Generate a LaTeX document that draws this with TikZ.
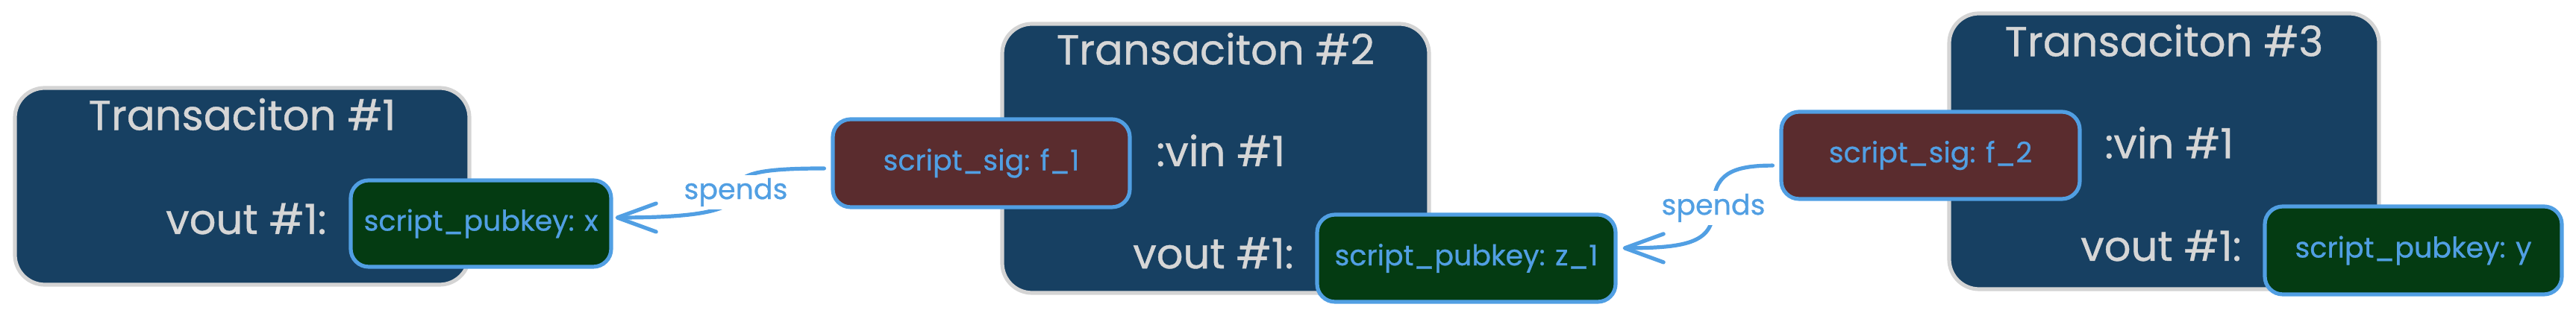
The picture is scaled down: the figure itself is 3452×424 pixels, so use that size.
\documentclass[tikz,border=0pt]{standalone}
\usepackage{fontspec}
\setmainfont{Poppins}[FakeBold=0.7]
\usetikzlibrary{arrows.meta}
\definecolor{txfill}{HTML}{174062}
\definecolor{txline}{HTML}{D4D4D4}
\definecolor{txtext}{HTML}{D6D6D6}
\definecolor{pubfill}{HTML}{043B12}
\definecolor{sigfill}{HTML}{5A2C2E}
\definecolor{skblue}{HTML}{519FE3}
\tikzset{
  txbox/.style={draw=txline, fill=txfill, line width=1.3pt, rounded corners=10pt, inner sep=0pt},
  txtitle/.style={text=txtext, font=\fontsize{14}{16}\selectfont, inner sep=0pt, anchor=base},
  txlbl/.style={text=txtext, font=\fontsize{14}{16}\selectfont, inner sep=0pt},
  pubbox/.style={draw=skblue, fill=pubfill, line width=1.3pt, rounded corners=6pt, inner sep=0pt, text=skblue, font=\fontsize{9.5}{11}\selectfont},
  sigbox/.style={draw=skblue, fill=sigfill, line width=1.3pt, rounded corners=6pt, inner sep=0pt, text=skblue, font=\fontsize{9.5}{11}\selectfont},
  spendline/.style={draw=skblue, line width=1.3pt, line cap=round, -{Straight Barb[length=13pt,width=9.5pt,round]}},
  spendlbl/.style={fill=white, text=skblue, font=\fontsize{9.5}{11}\selectfont, inner sep=1pt}
}
\begin{document}
\begin{tikzpicture}[x=0.25pt,y=-0.25pt]
\useasboundingbox (0,0) rectangle (3452,424);
% transaction boxes
\node[txbox, minimum width=152.25pt, minimum height=66pt] (t1) at (324.5,250) {};
\node[txbox, minimum width=143pt, minimum height=90.25pt] (t2) at (1629,212.5) {};
\node[txbox, minimum width=144pt, minimum height=92.5pt] (t3) at (2900,203) {};
\node[txtitle] (t1title) at ([yshift=-14.75pt]t1.north) {Transaciton \#1};
\node[txtitle] (t2title) at ([yshift=-14.25pt]t2.north) {Transaciton \#2};
\node[txtitle] (t3title) at ([yshift=-15pt]t3.north) {Transaciton \#3};
% inputs / outputs
\node[pubbox, minimum width=87.25pt, minimum height=29pt] (g1) at (644.5,300) {script\_pubkey: x};
\node[sigbox, minimum width=99.5pt, minimum height=29.5pt] (r1) at (1315,219) {script\_sig: f\_1};
\node[pubbox, minimum width=100pt, minimum height=29.25pt] (g2) at (1965,346.5) {script\_pubkey: z\_1};
\node[sigbox, minimum width=100pt, minimum height=29.25pt] (r2) at (2587,208.5) {script\_sig: f\_2};
\node[pubbox, minimum width=99.5pt, minimum height=29.5pt] (g3) at (3234,336) {script\_pubkey: y};
% labels
\node[txlbl, anchor=base east] (v1) at ([xshift=-7.25pt,yshift=-3.5pt]g1.west) {vout \#1:};
\node[txlbl, anchor=base east] (v2) at ([xshift=-7pt,yshift=-3.4pt]g2.west) {vout \#1:};
\node[txlbl, anchor=base east] (v3) at ([xshift=-7pt,yshift=-3.5pt]g3.west) {vout \#1:};
\node[txlbl, anchor=base west] (i2) at ([xshift=8pt,yshift=-1pt]r1.east) {:vin \#1};
\node[txlbl, anchor=base west] (i3) at ([xshift=7.5pt,yshift=-1pt]r2.east) {:vin \#1};
% spends arrows
\coordinate (m1) at (986,258);
\coordinate (m2) at (2296,279);
\draw[spendline] ([xshift=-2.25pt,yshift=-1.75pt]r1.west) .. controls +(-90,0) and +(0,-25) .. (m1) .. controls +(0,25) and +(110,0) .. ([xshift=0.75pt,yshift=2pt]g1.east);
\draw[spendline] ([xshift=-2.25pt,yshift=-3.4pt]r2.west) .. controls +(-55,0) and +(0,-45) .. (m2) .. controls +(0,45) and +(90,0) .. ([xshift=1.75pt,yshift=3.4pt]g2.east);
\node[spendlbl] (s1) at (m1) {spends};
\node[spendlbl] (s2) at (m2) {spends};
\end{tikzpicture}
\end{document}
